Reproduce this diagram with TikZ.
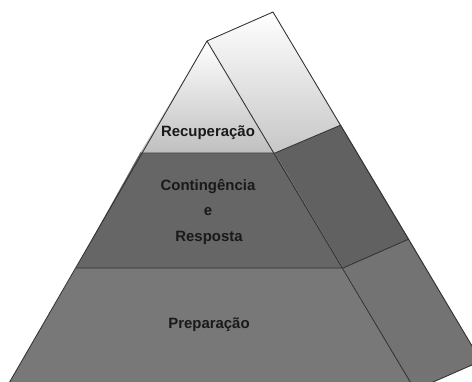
\documentclass[tikz,border=0pt]{standalone}
\usepackage{fontspec}
\setmainfont{Liberation Sans}
\usepackage{tikz}

\begin{document}
\begin{tikzpicture}[x=0.2mm,y=-0.2mm,
    rim/.style={draw=black!80,line width=0.5pt,line join=round},
    lvl/.style={font=\bfseries\fontsize{8.5}{10}\selectfont,text=black!90,inner sep=1pt}]
        \useasboundingbox (0,0) rectangle (472,381);
        \clip (0,0) rectangle (472,381);

        % corners
        \coordinate (A) at (207,41);
        \coordinate (B) at (273,12);
        \coordinate (L1) at (140,153);
        \coordinate (R1) at (275,153);
        \coordinate (K1) at (341,125);
        \coordinate (L2) at (76,268);
        \coordinate (R2) at (343,268);
        \coordinate (K2) at (409,239);
        \coordinate (L3) at (5,390);
        \coordinate (R3) at (415,390);
        \coordinate (K3) at (481,361);

        \fill[black!53] (L2) -- (R2) -- (R3) -- (L3) -- cycle;
        \fill[black!55] (R2) -- (K2) -- (K3) -- (R3) -- cycle;
        \fill[black!60] (L1) -- (R1) -- (R2) -- (L2) -- cycle;
        \fill[black!62] (R1) -- (K1) -- (K2) -- (R2) -- cycle;
        \shade[top color=white,bottom color=black!25] (A) -- (R1) -- (L1) -- cycle;
        \shade[top color=white,bottom color=black!22] (A) -- (B) -- (K1) -- (R1) -- cycle;

        \draw[rim] (L3) -- (A) -- (B) -- (K3);
        \draw[rim] (A) -- (R3);
        \draw[rim] (L1) -- (R1) -- (K1);
        \draw[rim] (L2) -- (R2) -- (K2);
        \draw[rim] (R3) -- (K3);

        \node[lvl] (rec) at (208,133) {Recuperação};
        \node[lvl] (cont) at (208,187) {Contingência};
        \node[lvl] (e) at (208,212) {e};
        \node[lvl] (resp) at (209,238) {Resposta};
        \node[lvl] (prep) at (209,325) {Preparação};
    \end{tikzpicture}
\end{document}
